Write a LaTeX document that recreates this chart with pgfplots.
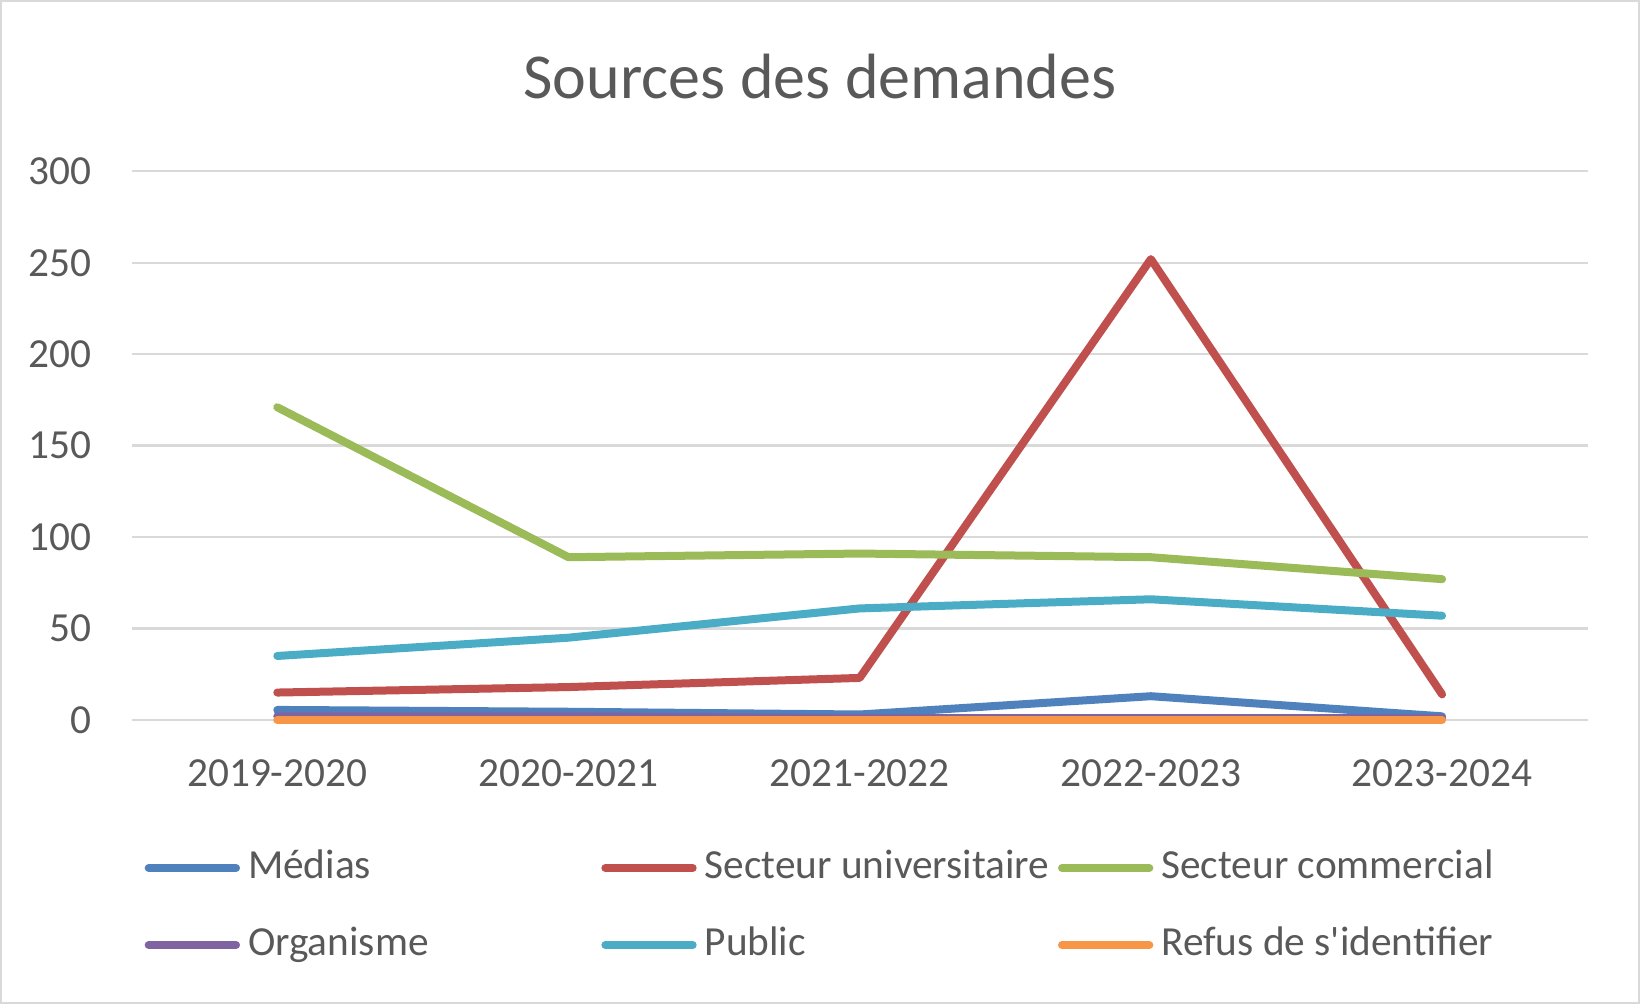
\documentclass[border=0pt]{standalone}
\usepackage{fontspec}
\setmainfont{Carlito}
\usepackage{pgfplots}
\pgfplotsset{compat=1.18}

\definecolor{txt}{HTML}{595959}
\definecolor{gridc}{HTML}{D9D9D9}
\definecolor{cmedias}{HTML}{4F81BD}
\definecolor{cuniv}{HTML}{C0504D}
\definecolor{ccomm}{HTML}{9BBB59}
\definecolor{corg}{HTML}{8064A2}
\definecolor{cpub}{HTML}{4BACC6}
\definecolor{crefus}{HTML}{F79646}

\begin{document}
\begin{tikzpicture}[x=1pt,y=1pt]
\useasboundingbox (0,0) rectangle (492,301.2);
\draw[gridc, line width=0.6pt] (0.3,0.3) rectangle (491.7,300.9);
\node[text=txt, font=\fontsize{19.2}{23}\selectfont] at (246,278.3) {Sources des demandes};
\begin{axis}[
    at={(39.5pt,85.2pt)}, anchor=south west,
    scale only axis,
    width=436.8pt, height=164.6pt,
    xmin=-0.5, xmax=4.5, ymin=0, ymax=300,
    xtick={0,1,2,3,4},
    xticklabels={2019-2020,2020-2021,2021-2022,2022-2023,2023-2024},
    ytick={0,50,100,150,200,250,300},
    axis line style={draw=none},
    major tick length=0pt,
    ymajorgrids,
    grid style={color=gridc, line width=0.7pt},
    clip=false,
    /pgf/number format/assume math mode=true,
    ticklabel style={font=\fontsize{12.4}{14}\selectfont, text=txt},
    xticklabel style={anchor=base, yshift=-20pt},
    yticklabel style={anchor=east, inner sep=0pt, xshift=-11.9pt},
    every axis plot/.append style={line width=2.4pt, line join=round, line cap=round},
    legend columns=3,
    legend cell align=left,
    legend image code/.code={\path (0pt,0pt) (28.2pt,0pt); \draw[#1, line cap=round] (1.2pt,0pt) -- (27.4pt,0pt);},
    legend style={at={(rel axis cs:0.0062,-0.2334)}, anchor=north west,
        draw=none, fill=none, inner sep=0pt, outer sep=0pt, row sep=11.1pt,
        nodes={inner sep=0pt, text height=9pt, text depth=3pt, text=txt, font=\fontsize{12.4}{14}\selectfont},
        /tikz/every odd column/.style={column sep=1.6pt},
        /tikz/every even column/.style={column sep=0pt}},
]
\addplot[cmedias] coordinates {(0,5.5) (1,4.5) (2,3) (3,13) (4,2)};
\addlegendentry{\makebox[104.8pt][l]{Médias}}
\addplot[cuniv] coordinates {(0,15) (1,18) (2,23) (3,252) (4,14)};
\addlegendentry{\makebox[104.8pt][l]{Secteur universitaire}}
\addplot[ccomm] coordinates {(0,171) (1,89) (2,91) (3,89) (4,77)};
\addlegendentry{\makebox[104.8pt][l]{Secteur commercial}}
\addplot[corg] coordinates {(0,2) (1,2) (2,1) (3,1) (4,1)};
\addlegendentry{\makebox[104.8pt][l]{Organisme}}
\addplot[cpub] coordinates {(0,35) (1,45) (2,61) (3,66) (4,57)};
\addlegendentry{\makebox[104.8pt][l]{Public}}
\addplot[crefus] coordinates {(0,0) (1,0) (2,0) (3,0) (4,0)};
\addlegendentry{\makebox[104.8pt][l]{Refus de s\textquotesingle identifier}}
\end{axis}
\end{tikzpicture}
\end{document}
